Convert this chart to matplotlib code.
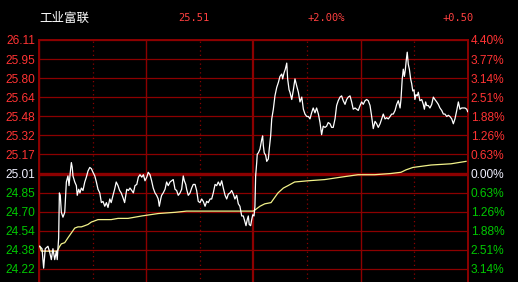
import matplotlib
matplotlib.use("Agg")
import matplotlib.pyplot as plt
import numpy as np

# stock header
stock_name = "工业富联"
last_price = "25.51"
change_pct = "+2.00%"
change_amt = "+0.50"

prev_close = 25.01
max_pct = 4.40

# labels visible in the picture (the two lowest grid lines fall below the frame)
price_labels = ["26.11", "25.95", "25.80", "25.64", "25.48", "25.32", "25.17", "25.01",
                "24.85", "24.70", "24.54", "24.38", "24.22"]
pct_labels = ["4.40%", "3.77%", "3.14%", "2.51%", "1.88%", "1.26%", "0.63%", "0.00%",
              "0.63%", "1.26%", "1.88%", "2.51%", "3.14%"]

# intraday price (minute, price)
price_min = [
    0.4, 1.7, 2.6, 3.5, 5.0, 6.0, 6.9, 7.8, 8.8, 9.7, 10.2, 11.0, 11.4, 11.9, 12.5, 13.4,
    14.4, 15.3, 16.2, 16.8, 17.5, 18.1, 18.6, 19.0, 20.0, 20.9, 21.4, 22.2, 22.9, 23.7,
    24.6, 25.6, 26.5, 27.4, 28.4, 29.3, 30.2, 31.2, 32.1, 33.0, 34.0, 34.9, 35.8, 36.8,
    37.7, 38.6, 39.6, 40.4, 41.4, 42.3, 43.2, 44.2, 45.1, 46.0, 47.0, 47.9,
    49.1, 50.0, 50.9, 51.9, 52.8, 53.7, 54.7, 55.6, 56.5, 57.5, 58.4, 59.3, 60.3, 61.1,
    62.1, 63.0, 63.9, 64.9, 65.8, 66.7, 67.3, 68.1, 68.6, 69.5, 70.5, 71.4, 72.3, 73.3,
    74.2, 75.1, 76.1, 77.0, 77.9, 78.9, 79.8, 80.7, 81.3, 82.1, 82.6, 83.5, 84.5, 85.4,
    86.3, 87.3, 88.2, 89.1, 90.1, 91.0, 91.9, 92.9, 93.8, 94.7, 95.7, 96.6, 97.5,
    98.5, 99.4, 100.3, 101.3, 102.2, 103.1, 104.1, 105.0, 105.9, 106.9, 107.8, 108.7,
    109.6, 110.6, 111.5, 112.4, 113.4, 114.3, 115.2, 115.8, 116.5, 117.1, 117.6, 118.4,
    119.0, 119.6, 120.3, 120.8, 121.2, 121.8, 122.1, 122.7, 123.6, 124.6, 125.1, 125.5,
    126.0, 126.8, 127.4, 128.3, 128.8, 129.6, 130.2, 131.1, 132.0, 133.0, 133.9, 134.8,
    135.8, 136.3, 137.1, 137.8, 138.6, 139.1, 139.9, 140.4, 141.4, 142.3,
    143.2, 144.2, 145.1, 146.0, 147.0, 147.9, 148.8, 149.8, 150.7, 151.6, 152.5, 153.4,
    154.4, 155.3, 156.3, 157.2, 158.1, 159.0, 160.0, 160.9, 161.8, 162.8, 163.7, 164.6,
    165.6, 166.5, 167.4, 168.4, 169.3, 170.2, 171.2, 172.1, 173.0, 174.0, 174.9, 175.8,
    176.8, 177.7, 178.6, 179.6, 180.5, 181.4, 182.4, 183.3, 184.2, 185.2, 186.1, 187.0,
    188.0, 188.9, 189.8, 190.8, 191.7, 192.6,
    193.6, 194.5, 195.4, 196.4, 197.3, 198.2, 199.2, 200.1, 201.0, 202.0, 202.5, 203.2,
    203.8, 204.4, 204.9, 205.5, 206.0, 206.6, 207.2, 207.9, 208.5, 209.1, 209.8, 210.3,
    210.9, 211.6, 212.2, 213.1, 214.1, 215.0, 215.6, 216.3, 216.9, 217.8, 218.7, 219.7,
    220.6, 221.5, 222.5, 223.4, 224.3, 225.3, 226.2, 227.1, 228.1, 229.0, 229.9, 230.9,
    231.8, 232.7, 233.7, 234.6, 235.5, 236.5, 237.4, 238.3, 239.3, 239.8,
]
price_val = [
    24.41, 24.39, 24.23, 24.39, 24.41, 24.36, 24.30, 24.39, 24.30, 24.37, 24.30, 24.48,
    24.85, 24.83, 24.69, 24.65, 24.69, 24.94, 24.99, 24.91, 25.02, 25.10, 25.06, 24.99,
    24.94, 24.91, 24.83, 24.88, 24.85, 24.89, 24.87, 24.94, 24.98, 25.03, 25.06, 25.05,
    25.02, 24.99, 24.94, 24.88, 24.85, 24.77, 24.78, 24.74, 24.77, 24.73, 24.80, 24.77,
    24.83, 24.88, 24.94, 24.91, 24.87, 24.85, 24.81, 24.77,
    24.88, 24.87, 24.89, 24.87, 24.85, 24.91, 24.92, 24.98, 25.00, 24.98, 25.00, 24.95,
    24.98, 25.02, 25.00, 24.95, 24.89, 24.85, 24.83, 24.80, 24.74, 24.80, 24.83, 24.85,
    24.88, 24.94, 24.91, 24.94, 24.95, 24.96, 24.88, 24.87, 24.83, 24.85, 24.88, 24.99,
    24.95, 24.92, 24.88, 24.83, 24.85, 24.89, 24.92, 24.92, 24.87, 24.78, 24.77, 24.80,
    24.78, 24.74, 24.78, 24.77, 24.80, 24.80, 24.85,
    24.92, 24.91, 24.94, 24.91, 24.95, 24.89, 24.83, 24.80, 24.84, 24.85, 24.87, 24.84,
    24.80, 24.83, 24.76, 24.74, 24.66, 24.66, 24.61, 24.58, 24.63, 24.66, 24.59, 24.58,
    24.63, 24.67, 24.66, 24.74, 24.99, 25.10, 25.17, 25.18, 25.21, 25.29, 25.32, 25.24,
    25.18, 25.16, 25.11, 25.13, 25.21, 25.32, 25.46, 25.54, 25.65, 25.72, 25.76, 25.81,
    25.83, 25.79, 25.84, 25.87, 25.92, 25.79, 25.70, 25.68, 25.62, 25.70,
    25.79, 25.73, 25.68, 25.60, 25.64, 25.54, 25.50, 25.48, 25.48, 25.46, 25.51, 25.55,
    25.51, 25.55, 25.50, 25.43, 25.33, 25.40, 25.39, 25.40, 25.43, 25.42, 25.39, 25.39,
    25.46, 25.57, 25.61, 25.64, 25.65, 25.61, 25.58, 25.62, 25.64, 25.65, 25.60, 25.54,
    25.55, 25.54, 25.53, 25.57, 25.60, 25.58, 25.61, 25.62, 25.61, 25.57, 25.48, 25.38,
    25.44, 25.42, 25.39, 25.42, 25.46, 25.50,
    25.46, 25.47, 25.46, 25.48, 25.50, 25.50, 25.53, 25.58, 25.61, 25.55, 25.62, 25.79,
    25.87, 25.81, 25.86, 25.95, 26.01, 25.91, 25.87, 25.79, 25.75, 25.69, 25.70, 25.62,
    25.66, 25.65, 25.68, 25.61, 25.62, 25.58, 25.54, 25.60, 25.57, 25.57, 25.55, 25.58,
    25.64, 25.62, 25.60, 25.58, 25.55, 25.53, 25.50, 25.50, 25.48, 25.49, 25.48, 25.46,
    25.42, 25.46, 25.53, 25.60, 25.54, 25.55, 25.55, 25.55, 25.54, 25.52,
]

# average price line (minute, price)
avg_min = [0.4, 1.3, 10.2, 11.6, 12.5, 14.4, 16.2, 18.1, 20.0, 21.8, 23.7, 25.6, 27.4,
           29.3, 31.2, 33.0, 36.8, 40.4, 44.2, 49.8, 57.5, 66.7, 76.1, 82.6, 98.5,
           119.9, 121.8, 123.6, 126.3, 129.8, 133.7, 136.7, 139.3, 143.0, 150.5, 159.9,
           169.0, 178.5, 187.8, 196.9, 202.5, 205.3, 209.2, 219.3, 230.5, 238.9]
avg_val = [24.41, 24.37, 24.37, 24.41, 24.43, 24.44, 24.48, 24.52, 24.56, 24.57, 24.57,
           24.58, 24.59, 24.61, 24.62, 24.63, 24.63, 24.63, 24.64, 24.64, 24.66, 24.68,
           24.69, 24.70, 24.70, 24.70, 24.72, 24.74, 24.76, 24.77, 24.85, 24.89, 24.91,
           24.94, 24.95, 24.96, 24.98, 25.00, 25.00, 25.01, 25.02, 25.04, 25.06, 25.08,
           25.09, 25.11]

GRID = "#8C0000"
RED = "#FF3333"
GREEN = "#00C800"
WHITE = "#F0F0FF"

fig = plt.figure(figsize=(5.18, 2.82), dpi=100, facecolor="black")
ax = fig.add_axes([39 / 518, 1 - 307 / 282, 429 / 518, 267 / 282], facecolor="black")

# grid lines run every max_pct/7 percent above and below the previous close
hi = prev_close * (1 + max_pct / 100)
lo = prev_close * (1 - max_pct / 100)
ticks = np.linspace(hi, lo, 15)
ax.set_xlim(0, 240)
ax.set_ylim(lo, hi)

# horizontal grid
for i, t in enumerate(ticks):
    lw = 2.4 if i == 7 else 0.9
    ax.axhline(t, color=GRID, lw=lw, zorder=1)

# vertical grid, every 30 minutes
for m in range(0, 241, 30):
    if m % 60 == 0:
        ax.axvline(m, color=GRID, lw=1.6 if m == 120 else 1.0, zorder=1)
    else:
        ax.axvline(m, color=GRID, lw=0.9, ls=(0, (1, 2.5)), zorder=1)

ax.plot(avg_min, avg_val, color="#F2F28A", lw=0.9, zorder=3)
ax.plot(price_min, price_val, color="white", lw=0.9, zorder=4)

for s in ax.spines.values():
    s.set_color(GRID)
    s.set_linewidth(1.4)

n = len(price_labels)
ax.set_yticks(ticks[:n])
ax.set_yticklabels(price_labels, fontsize=8.6, family="Liberation Sans")
ax.set_xticks([])
ax.tick_params(axis="y", length=0, pad=3)
for i, lab in enumerate(ax.get_yticklabels()):
    lab.set_color(RED if i < 7 else (WHITE if i == 7 else GREEN))

ax2 = ax.twinx()
ax2.set_ylim(lo, hi)
ax2.set_yticks(ticks[:len(pct_labels)])
ax2.set_yticklabels(pct_labels, fontsize=8.6, family="Liberation Sans")
ax2.tick_params(axis="y", length=0, pad=2)
for s in ax2.spines.values():
    s.set_visible(False)
for i, lab in enumerate(ax2.get_yticklabels()):
    lab.set_color(RED if i < 7 else (WHITE if i == 7 else GREEN))

# header
fig.text(39 / 518, 1 - 18 / 282, stock_name, color="white", fontsize=9,
         family="Noto Sans CJK SC", va="center", ha="left")
fig.text(194 / 518, 1 - 18 / 282, last_price, color="#FF4040", fontsize=7.5,
         family="DejaVu Sans Mono", va="center", ha="center")
fig.text(326 / 518, 1 - 18 / 282, change_pct, color="#FF4040", fontsize=7.5,
         family="DejaVu Sans Mono", va="center", ha="center")
fig.text(458 / 518, 1 - 18 / 282, change_amt, color="#FF4040", fontsize=7.5,
         family="DejaVu Sans Mono", va="center", ha="center")

fig.savefig("out.png", dpi=100, facecolor="black")
